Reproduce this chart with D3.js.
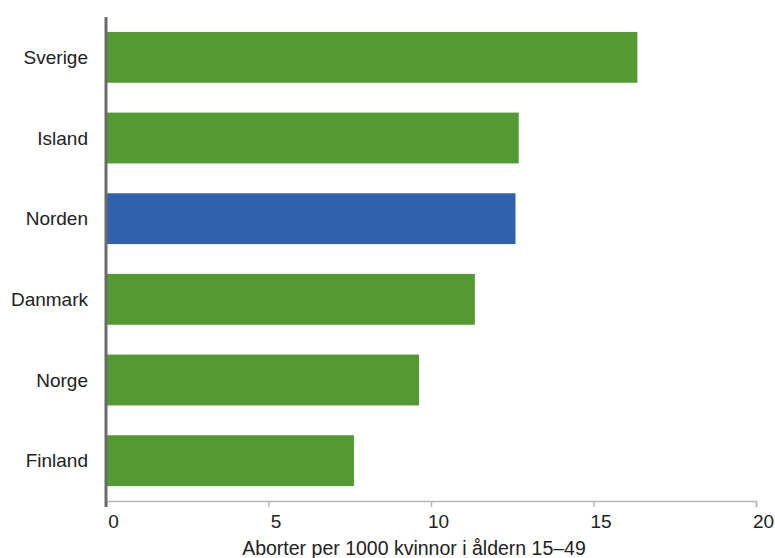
<!DOCTYPE html>
<html lang="sv">
<head>
    <meta charset="UTF-8">
    <title>Aborter i Norden</title>
    <script src="https://d3js.org/d3.v7.min.js"></script>
    <style>
        body { margin: 0; background: #fff; font-family: "Liberation Sans", Arial, sans-serif; }
        svg { display: block; }
        .label { font-size: 19px; fill: #222; }
        .title { font-size: 19.5px; fill: #222; }
    </style>
</head>
<body>
    <svg width="775" height="558"></svg>

    <script>
        const countries = ["Sverige", "Island", "Norden", "Danmark", "Norge", "Finland"];
        const rates = [16.35, 12.7, 12.6, 11.35, 9.63, 7.63];
        const xTicks = [0, 5, 10, 15, 20];
        const axisTitle = "Aborter per 1000 kvinnor i åldern 15–49";

        const svg = d3.select("svg");
        const plotLeft = 106, plotRight = 756, plotTop = 17, plotBottom = 501;

        const x = d3.scaleLinear().domain([0, 20]).range([plotLeft, plotRight]);
        const y = d3.scaleBand().domain(countries).range([plotTop, plotBottom]).paddingInner(0.37).paddingOuter(0.185);

        // staplar
        svg.selectAll("rect.bar")
            .data(countries)
            .join("rect")
            .attr("class", "bar")
            .attr("x", x(0) + 1)
            .attr("y", d => y(d))
            .attr("width", (d, i) => x(rates[i]) - x(0) - 1)
            .attr("height", y.bandwidth())
            .attr("fill", d => d === "Norden" ? "#2e62ac" : "#549a32");

        // x-axel
        const xAxis = svg.append("g")
            .attr("transform", `translate(0,${plotBottom})`)
            .call(d3.axisBottom(x).tickValues(xTicks).tickSize(6).tickPadding(8));
        xAxis.select(".domain").attr("stroke", "#b8b8b8").attr("stroke-width", 1.5);
        xAxis.selectAll(".tick line").attr("stroke", "#b8b8b8").attr("stroke-width", 1.5);
        xAxis.attr("font-family", null).attr("font-size", null);
        xAxis.selectAll(".tick text")
            .attr("class", "label")
            .attr("fill", null)
            .attr("dx", 7);

        // y-axel
        svg.append("line")
            .attr("x1", plotLeft).attr("x2", plotLeft)
            .attr("y1", plotTop).attr("y2", plotBottom + 6)
            .attr("stroke", "#6b6b6b").attr("stroke-width", 3);

        svg.selectAll("text.cat")
            .data(countries)
            .join("text")
            .attr("class", "label cat")
            .attr("x", 88)
            .attr("y", d => y(d) + y.bandwidth() / 2)
            .attr("dy", "0.35em")
            .attr("text-anchor", "end")
            .text(d => d);

        svg.append("text")
            .attr("class", "title")
            .attr("x", 414)
            .attr("y", 555)
            .attr("text-anchor", "middle")
            .text(axisTitle);
    </script>
</body>
</html>
